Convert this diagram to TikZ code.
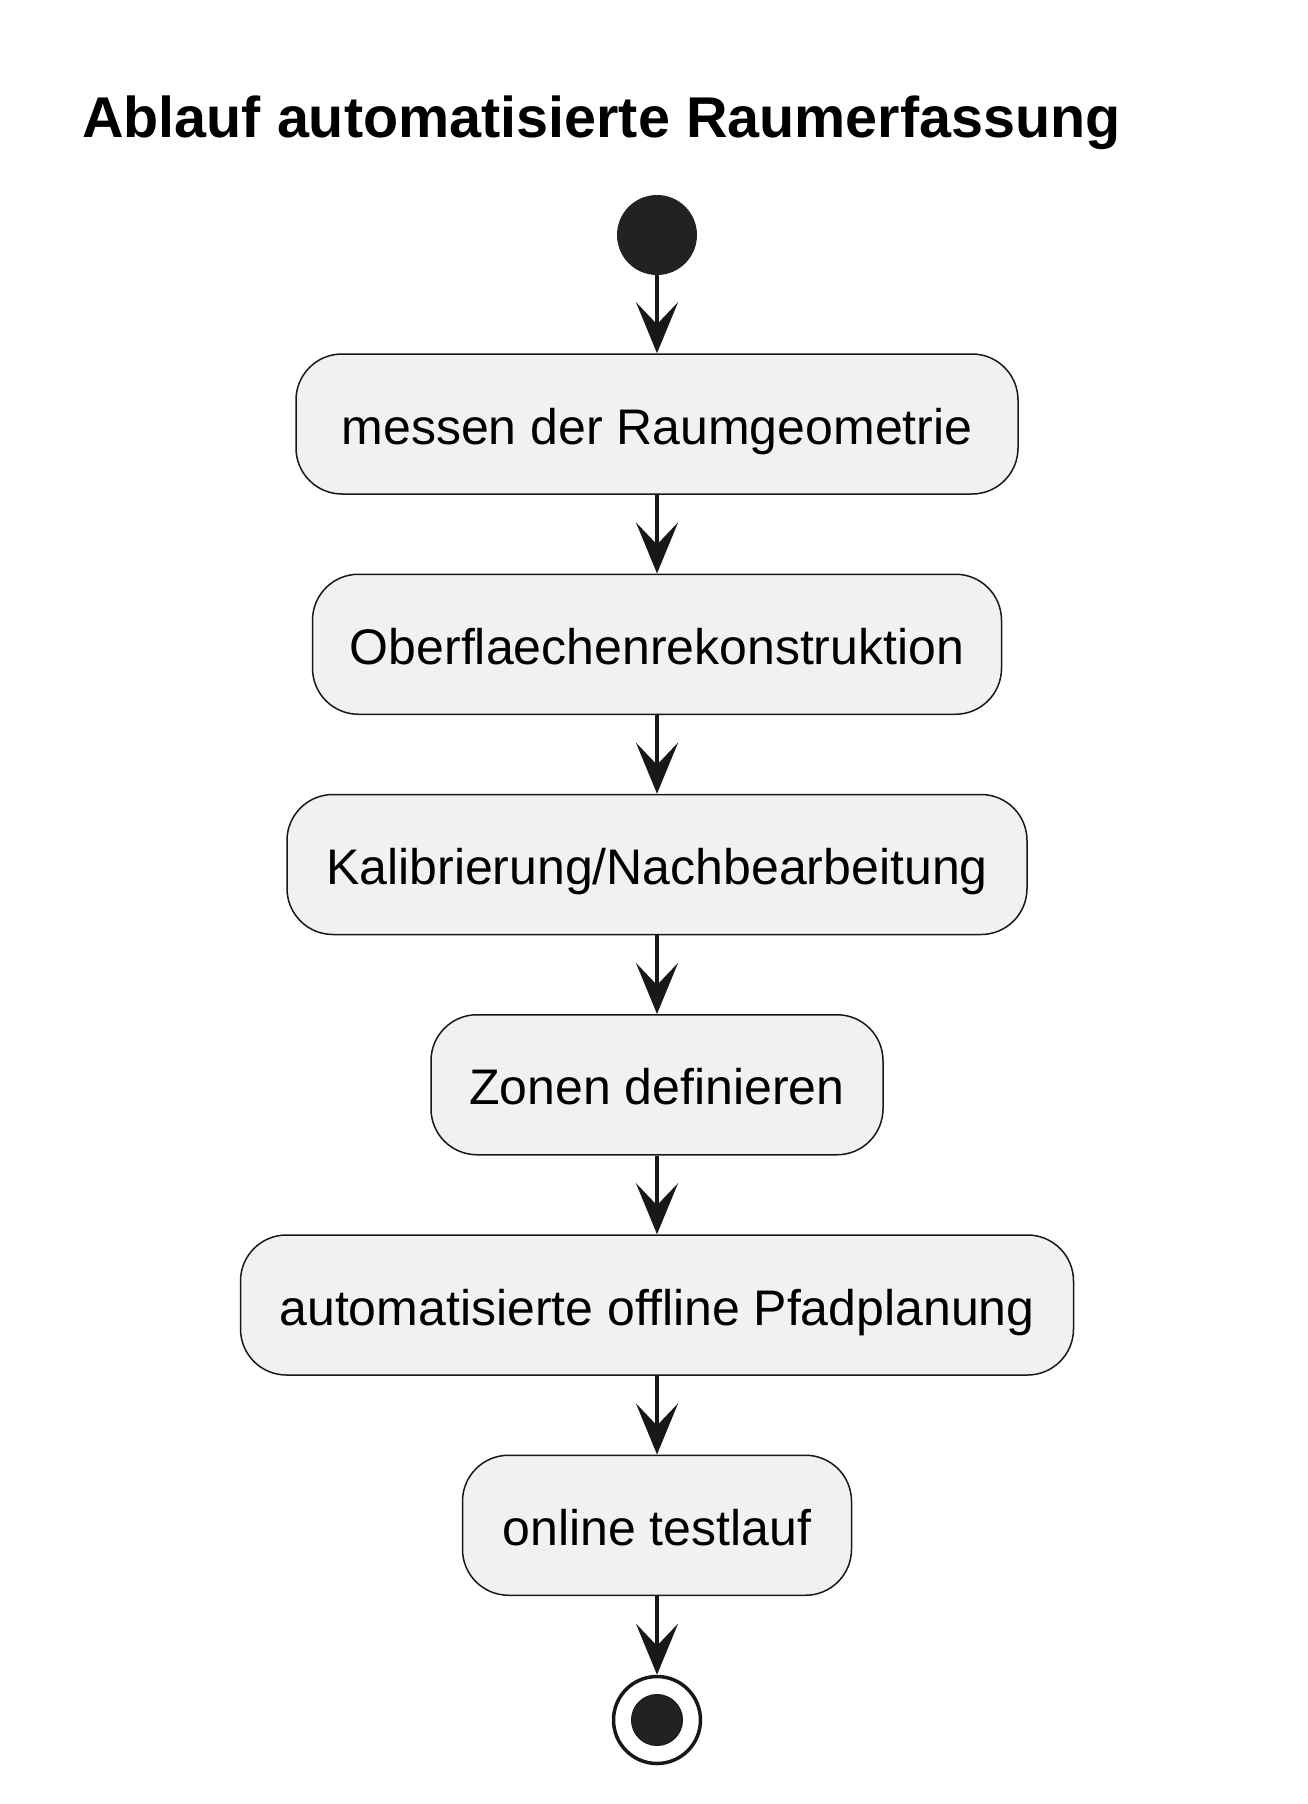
\documentclass[tikz,border=0pt]{standalone}
\usepackage{fontspec}
\setmainfont{Liberation Sans}
\usetikzlibrary{arrows.meta}
\definecolor{lineC}{HTML}{181818}
\definecolor{boxC}{HTML}{F1F1F1}
\definecolor{dotC}{HTML}{222222}
\begin{document}
\begin{tikzpicture}[x=1pt,y=-1pt,
  actbox/.style={draw=lineC, fill=boxC, line width=1.5pt, rounded corners=46pt,
    minimum height=140pt, inner sep=0pt, text height=40pt, text depth=0pt,
    font=\fontsize{50}{60}\selectfont},
  flow/.style={draw=lineC, line width=4pt,
    -{Stealth[length=51pt, width=42pt, inset=22pt]}}]
\useasboundingbox (0,0) rectangle (1308,1804);
\node[anchor=base west, inner sep=0pt, font=\fontsize{57.5}{66}\bfseries\selectfont] (title) at (82,137) {Ablauf automatisierte Raumerfassung};
\node[circle, fill=dotC, minimum size=80pt, inner sep=0pt] (start) at (657,235) {};
\node[actbox, minimum width=722pt] (b1) at (657,424) {messen der Raumgeometrie};
\node[actbox, minimum width=689pt] (b2) at (657,644.25) {Oberflaechenrekonstruktion};
\node[actbox, minimum width=740pt] (b3) at (657,864.5) {Kalibrierung/Nachbearbeitung};
\node[actbox, minimum width=452pt] (b4) at (657,1084.75) {Zonen definieren};
\node[actbox, minimum width=833pt] (b5) at (657,1305) {automatisierte offline Pfadplanung};
\node[actbox, minimum width=389pt] (b6) at (657,1525.25) {online testlauf};
\node[circle, draw=lineC, line width=3.5pt, fill=white, minimum size=87pt, inner sep=0pt] (stop) at (657,1720) {};
\node[circle, fill=dotC, draw=lineC, line width=1pt, minimum size=51pt, inner sep=0pt] (stopdot) at (stop.center) {};
\draw[flow] (start) -- (b1);
\draw[flow] (b1) -- (b2);
\draw[flow] (b2) -- (b3);
\draw[flow] (b3) -- (b4);
\draw[flow] (b4) -- (b5);
\draw[flow] (b5) -- (b6);
\draw[flow] (b6) -- (stop);
\end{tikzpicture}
\end{document}
